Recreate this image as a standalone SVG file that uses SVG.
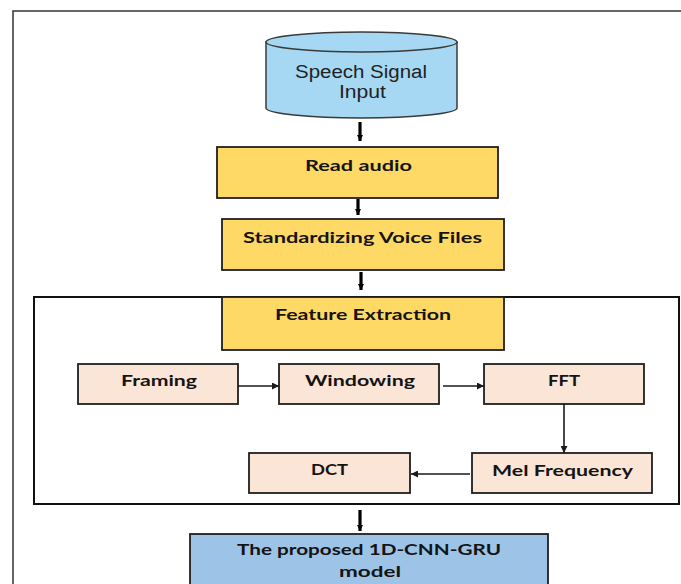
<svg xmlns="http://www.w3.org/2000/svg" width="681" height="584" viewBox="0 0 681 584">
<style>
.box{stroke:#1f1f1f;stroke-width:1.8}
.yel{fill:#FFD966}
.peach{fill:#FBE5D6}
.blue{fill:#9DC3E6}
.lbl{font-family:Lato,"Liberation Sans",sans-serif;font-weight:700;font-size:15px;fill:#141414;text-anchor:middle}
.cyl{font-family:"Liberation Sans",Arial,sans-serif;font-size:18px;fill:#222;text-anchor:middle}
.thick{stroke:#000;stroke-width:3.2;fill:none}
.thin{stroke:#1a1a1a;stroke-width:1.6;fill:none}
</style>
<defs>
<marker id="hThick" viewBox="0 0 10 10" refX="10" refY="5" markerWidth="6" markerHeight="9" markerUnits="userSpaceOnUse" orient="auto">
<path d="M0,0 L10,5 L0,10 Z" fill="#000"/>
</marker>
<marker id="hThin" viewBox="0 0 10 10" refX="10" refY="5" markerWidth="8" markerHeight="7" markerUnits="userSpaceOnUse" orient="auto">
<path d="M0,0 L10,5 L0,10 Z" fill="#1a1a1a"/>
</marker>
</defs>
<rect width="681" height="584" fill="#fff"/>
<rect id="frame" x="13" y="11" width="690" height="590" fill="none" stroke="#333" stroke-width="1.5"/>
<rect id="container" x="34" y="297" width="645" height="207" fill="none" stroke="#111" stroke-width="2"/>

<g id="speech-input">
<path d="M266,42 L266,108 A95.5,10 0 0 0 457,108 L457,42 Z" fill="#A6D8F3" stroke="#3a3a3a" stroke-width="1.5"/>
<ellipse cx="361.5" cy="42" rx="95.5" ry="10" fill="#A6D8F3" stroke="#3a3a3a" stroke-width="1.5"/>
<text class="cyl" x="361" y="78" textLength="132" lengthAdjust="spacingAndGlyphs">Speech Signal</text>
<text class="cyl" x="362.5" y="98" textLength="47" lengthAdjust="spacingAndGlyphs">Input</text>
</g>

<g id="read-audio">
<rect class="box yel" x="217" y="147" width="281" height="51"/>
<text class="lbl" x="358.5" y="171" textLength="107" lengthAdjust="spacingAndGlyphs">Read audio</text>
</g>

<g id="standardizing">
<rect class="box yel" x="222" y="219" width="282" height="51"/>
<text class="lbl" x="362.5" y="243" textLength="239" lengthAdjust="spacingAndGlyphs">Standardizing Voice Files</text>
</g>

<g id="feature-extraction">
<rect class="box yel" x="222" y="297" width="282" height="53"/>
<text class="lbl" x="363" y="320" textLength="176" lengthAdjust="spacingAndGlyphs">Feature Extraction</text>
</g>

<g id="framing">
<rect class="box peach" x="78" y="364" width="160" height="40"/>
<text class="lbl" x="159" y="386" textLength="76" lengthAdjust="spacingAndGlyphs">Framing</text>
</g>

<g id="windowing">
<rect class="box peach" x="279" y="364" width="160" height="40"/>
<text class="lbl" x="360" y="386" textLength="110" lengthAdjust="spacingAndGlyphs">Windowing</text>
</g>

<g id="fft">
<rect class="box peach" x="484" y="364" width="160" height="40"/>
<text class="lbl" x="564" y="386" textLength="32" lengthAdjust="spacingAndGlyphs">FFT</text>
</g>

<g id="mel-frequency">
<rect class="box peach" x="472" y="453" width="180" height="40"/>
<text class="lbl" x="562.5" y="476" textLength="141" lengthAdjust="spacingAndGlyphs">Mel Frequency</text>
</g>

<g id="dct">
<rect class="box peach" x="249" y="453" width="161" height="40"/>
<text class="lbl" x="329.5" y="475" textLength="37" lengthAdjust="spacingAndGlyphs">DCT</text>
</g>

<g id="proposed-model">
<rect class="box blue" x="190" y="534" width="358" height="60"/>
<text class="lbl" x="369" y="555" textLength="264" lengthAdjust="spacingAndGlyphs">The proposed 1D-CNN-GRU</text>
<text class="lbl" x="370" y="577" textLength="62" lengthAdjust="spacingAndGlyphs">model</text>
</g>

<g id="connectors">
<line class="thick" x1="360" y1="122" x2="360" y2="141" marker-end="url(#hThick)"/>
<line class="thick" x1="358" y1="199" x2="358" y2="215" marker-end="url(#hThick)"/>
<line class="thick" x1="361" y1="272" x2="361" y2="290" marker-end="url(#hThick)"/>
<line class="thick" x1="360" y1="510" x2="360" y2="531" marker-end="url(#hThick)"/>
<line class="thin" x1="238" y1="386" x2="279" y2="386" marker-end="url(#hThin)"/>
<line class="thin" x1="443" y1="386" x2="484" y2="386" marker-end="url(#hThin)"/>
<line class="thin" x1="564" y1="404" x2="564" y2="453" marker-end="url(#hThin)"/>
<line class="thin" x1="470" y1="474" x2="411" y2="474" marker-end="url(#hThin)"/>
</g>
</svg>
